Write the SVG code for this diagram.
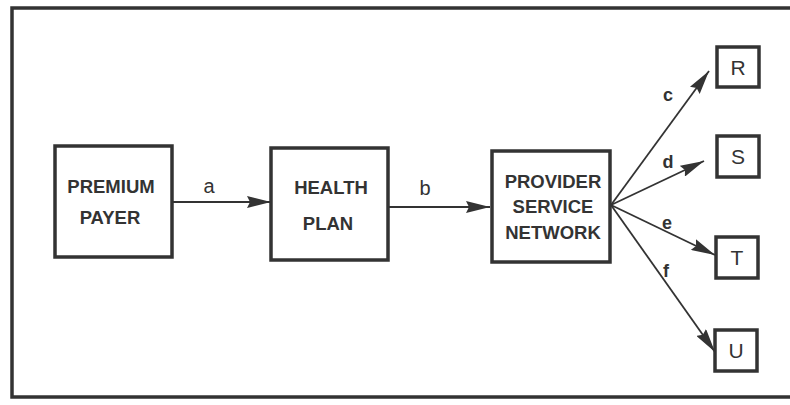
<svg xmlns="http://www.w3.org/2000/svg" width="790" height="405" viewBox="0 0 790 405">
<defs>
<style>
.box{fill:#fff;stroke:#333;stroke-width:3.5}
.frame{fill:none;stroke:#333;stroke-width:3.5}
.lbl{font-family:"Liberation Sans",Arial,sans-serif;font-weight:bold;font-size:18.5px;fill:#333;text-anchor:middle}
.sm{font-family:"Liberation Sans",Arial,sans-serif;font-size:21px;fill:#333;text-anchor:middle}
.el{font-family:"Liberation Sans",Arial,sans-serif;font-size:20px;fill:#333;text-anchor:middle}
.elb{font-family:"Liberation Sans",Arial,sans-serif;font-weight:bold;font-size:18px;fill:#333;text-anchor:middle}
.conn{stroke:#333;stroke-width:1.8;fill:none;marker-end:url(#ah)}
</style>
<marker id="ah" markerUnits="userSpaceOnUse" viewBox="0 0 24 12" refX="24" refY="6" markerWidth="24" markerHeight="12" orient="auto">
<path d="M0,0 L24,6 L0,12 L3,6 Z" fill="#333"/>
</marker>
</defs>
<rect class="frame" x="12" y="8" width="800" height="389"/>
<g id="connectors">
<line class="conn" x1="173" y1="202" x2="271" y2="202"/>
<line class="conn" x1="389" y1="207" x2="490" y2="207"/>
<line class="conn" x1="611" y1="205" x2="709" y2="71"/>
<line class="conn" x1="611" y1="205" x2="704" y2="161"/>
<line class="conn" x1="611" y1="205" x2="715" y2="255"/>
<line class="conn" x1="611" y1="205" x2="715" y2="352"/>
<text class="el" x="209" y="193">a</text>
<text class="el" x="425" y="195">b</text>
<text class="elb" x="668" y="101">c</text>
<text class="elb" x="668" y="168">d</text>
<text class="elb" x="667" y="229">e</text>
<text class="elb" x="666" y="277">f</text>
</g>
<g id="premium-payer">
<rect class="box" x="55" y="146" width="117" height="111"/>
<text class="lbl" x="111" y="193">PREMIUM</text>
<text class="lbl" x="110" y="224">PAYER</text>
</g>
<g id="health-plan">
<rect class="box" x="271" y="148" width="117" height="112"/>
<text class="lbl" x="331" y="194">HEALTH</text>
<text class="lbl" x="328" y="230">PLAN</text>
</g>
<g id="provider-service-network">
<rect class="box" x="492" y="151" width="118" height="111"/>
<text class="lbl" x="553" y="188">PROVIDER</text>
<text class="lbl" x="553" y="213">SERVICE</text>
<text class="lbl" x="553" y="239">NETWORK</text>
</g>
<g id="R">
<rect class="box" x="717" y="47" width="42" height="40"/>
<text class="sm" x="738" y="75">R</text>
</g>
<g id="S">
<rect class="box" x="717" y="136" width="42" height="41"/>
<text class="sm" x="738" y="164">S</text>
</g>
<g id="T">
<rect class="box" x="716" y="237" width="42" height="41"/>
<text class="sm" x="737" y="265">T</text>
</g>
<g id="U">
<rect class="box" x="715" y="330" width="42" height="41"/>
<text class="sm" x="736" y="358">U</text>
</g>
</svg>
